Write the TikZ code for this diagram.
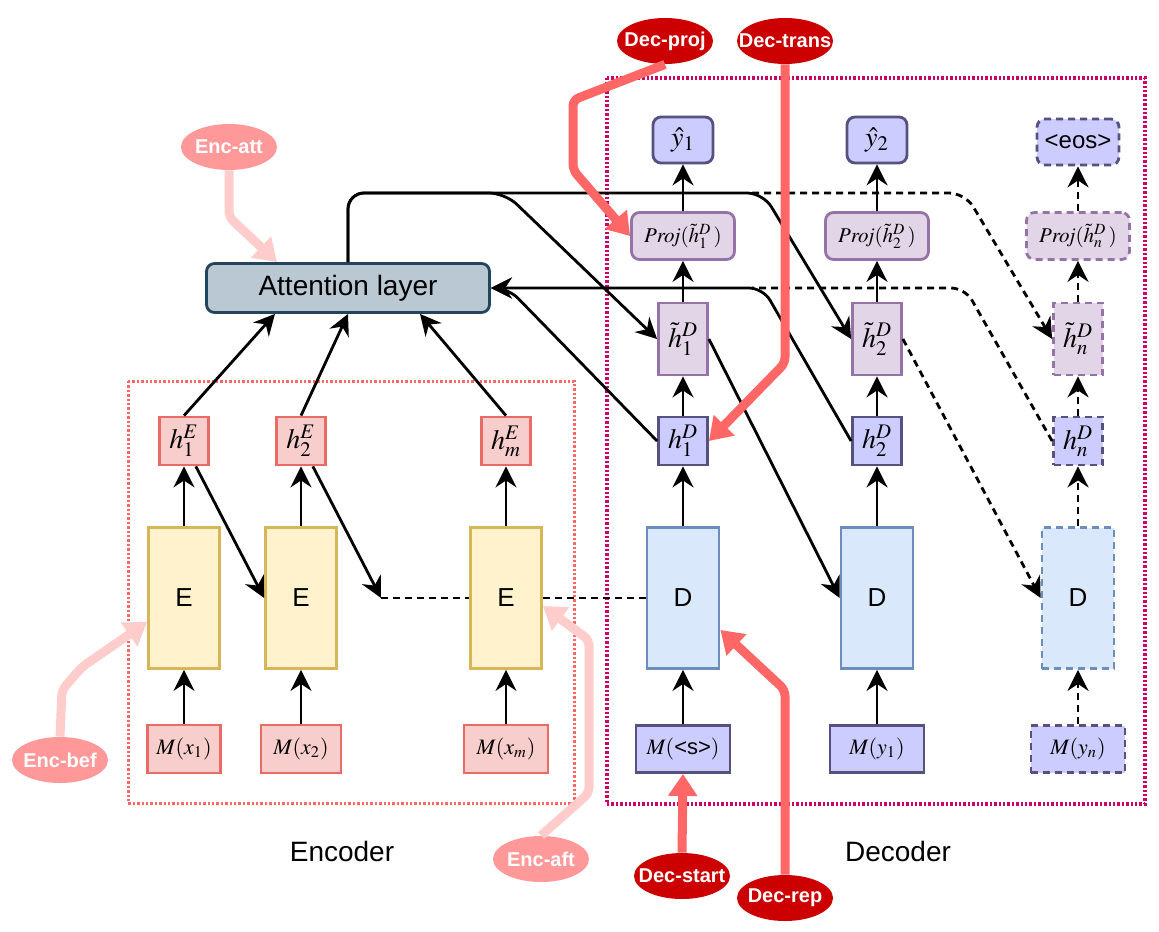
\documentclass[tikz,border=0pt]{standalone}
\usepackage{mathptmx}
\usepackage[no-math]{fontspec}
\setmainfont{Liberation Sans}
\usetikzlibrary{arrows.meta,shapes.geometric}

\definecolor{yellowFill}{HTML}{FFF2CC}
\definecolor{yellowLine}{HTML}{D6B656}
\definecolor{redFill}{HTML}{F8CECC}
\definecolor{redLine}{HTML}{EA6B66}
\definecolor{blueFill}{HTML}{DAE8FC}
\definecolor{blueLine}{HTML}{6C8EBF}
\definecolor{lilacFill}{HTML}{E1D5E7}
\definecolor{lilacLine}{HTML}{9673A6}
\definecolor{violetFill}{HTML}{CCCCFF}
\definecolor{violetLine}{HTML}{56517E}
\definecolor{attFill}{HTML}{BAC8D3}
\definecolor{attLine}{HTML}{23445D}
\definecolor{encFrame}{HTML}{FF6666}
\definecolor{decFrame}{HTML}{CC0066}
\definecolor{encTag}{HTML}{FF9999}
\definecolor{decTag}{HTML}{CC0000}
\definecolor{encHint}{HTML}{FFCCCC}
\definecolor{decHint}{HTML}{FF6666}

\newcommand{\cellFont}[0]{\fontsize{13}{15}\selectfont}
\newcommand{\titleFont}[0]{\fontsize{14}{16}\selectfont}
\newcommand{\tagFont}[0]{\fontsize{10}{12}\selectfont\bfseries}
\newcommand{\embFont}[0]{\fontsize{11}{13}\selectfont}
\newcommand{\projFont}[0]{\fontsize{10.5}{12}\selectfont}
\newcommand{\tagText}[1]{\makebox[0pt]{\raisebox{-2pt}{#1}}}

\begin{document}
\begin{tikzpicture}[x=0.5pt, y=-0.5pt]
  \tikzset{
    boxBase/.style={draw, line width=1.4pt, inner sep=0pt, align=center},
    cellE/.style={boxBase, draw=yellowLine, fill=yellowFill, minimum width=35.5pt, minimum height=70.5pt, font=\cellFont},
    cellD/.style={boxBase, draw=blueLine, fill=blueFill, minimum width=36pt, minimum height=70.5pt, font=\cellFont},
    stateE/.style={boxBase, draw=redLine, fill=redFill, minimum width=24.5pt, minimum height=24pt, font=\titleFont},
    embedE/.style={boxBase, draw=redLine, fill=redFill, minimum height=24pt, font=\embFont},
    stateD/.style={boxBase, draw=violetLine, fill=violetFill, minimum width=24.5pt, minimum height=24pt, font=\titleFont},
    stateT/.style={boxBase, draw=lilacLine, fill=lilacFill, minimum width=24.5pt, minimum height=36pt, font=\titleFont},
    projBox/.style={boxBase, draw=lilacLine, fill=lilacFill, rounded corners=4pt, minimum width=51.5pt, minimum height=23.5pt, font=\projFont},
    outBox/.style={boxBase, draw=violetLine, fill=violetFill, rounded corners=4pt, minimum width=30pt, minimum height=23pt, font=\titleFont},
    embedD/.style={boxBase, draw=violetLine, fill=violetFill, minimum width=47pt, minimum height=23.5pt, font=\embFont},
    ghost/.style={dash pattern=on 3.5pt off 2.5pt},
    link/.style={line width=1.4pt},
    wire/.style={link, -{Stealth[length=10.5pt,width=10.5pt,inset=3.5pt]}},
    tag/.style={ellipse, inner sep=0pt, minimum width=48pt, minimum height=23pt, text=white, font=\tagFont},
    hint/.style={line width=4.5pt, rounded corners=3pt, -{Triangle[length=11pt,width=14pt]}},
  }
  \useasboundingbox (0,0) rectangle (1159,931);

  % frames
  \draw[encFrame, line width=1.5pt, dash pattern=on 1.2pt off 1pt] (128,381) rectangle (574,803);
  \draw[decFrame, line width=1.7pt, dash pattern=on 1.2pt off 1pt] (607,78) rectangle (1145,804);

  % encoder
  \node[embedE, minimum width=36.5pt] (mx1) at (184,749) {$M(x_1)$};
  \node[embedE, minimum width=40pt] (mx2) at (301,749) {$M(x_2)$};
  \node[embedE, minimum width=42pt] (mxm) at (506,749) {$M(x_m)$};
  \node[cellE] (E1) at (184,598) {E};
  \node[cellE] (E2) at (301,598) {E};
  \node[cellE] (E3) at (506,598) {E};
  \node[stateE] (hE1) at (184,441) {$h_1^E$};
  \node[stateE] (hE2) at (301,441) {$h_2^E$};
  \node[stateE] (hEm) at (506,441) {$h_m^E$};
  \node[boxBase, draw=attLine, fill=attFill, rounded corners=4pt, minimum width=141.5pt, minimum height=24.5pt, font=\titleFont] (att) at (348,288) {Attention layer};

  % decoder
  \node[embedD] (ms) at (683,749) {$M($<s>$)$};
  \node[embedD] (my1) at (877,749) {$M(y_1)$};
  \node[embedD, ghost] (myn) at (1078,749) {$M(y_n)$};
  \node[cellD] (D1) at (683,598) {D};
  \node[cellD] (D2) at (877,598) {D};
  \node[cellD, ghost] (D3) at (1078,598) {D};
  \node[stateD] (hD1) at (683,441) {$h_1^D$};
  \node[stateD] (hD2) at (877,441) {$h_2^D$};
  \node[stateD, ghost] (hDn) at (1078,441) {$h_n^D$};
  \node[stateT] (ht1) at (683,339) {$\tilde{h}_1^D$};
  \node[stateT] (ht2) at (877,339) {$\tilde{h}_2^D$};
  \node[stateT, ghost] (htn) at (1078,339) {$\tilde{h}_n^D$};
  \node[projBox] (proj1) at (683,236) {$\mathit{Proj}(\tilde{h}_1^D\,)$};
  \node[projBox] (proj2) at (877,236) {$\mathit{Proj}(\tilde{h}_2^D\,)$};
  \node[projBox, ghost] (projn) at (1078,236) {$\mathit{Proj}(\tilde{h}_n^D\,)$};
  \node[outBox] (yh1) at (683,140) {$\hat{y}_1$};
  \node[outBox] (yh2) at (877,140) {$\hat{y}_2$};
  \node[outBox, ghost, minimum width=41pt, font=\fontsize{12}{14}\selectfont] (eos) at (1078,142) {<eos>};

  \node[font=\titleFont] (encName) at (342,851) {Encoder};
  \node[font=\titleFont] (decName) at (898,851) {Decoder};

  % columns
  \foreach \from/\to in {mx1/E1, mx2/E2, mxm/E3, E1/hE1, E2/hE2, E3/hEm, ms/D1, D1/hD1, hD1/ht1, ht1/proj1, proj1/yh1, my1/D2, D2/hD2, hD2/ht2, ht2/proj2, proj2/yh2}
    \draw[wire] (\from) -- (\to);
  \foreach \from/\to in {myn/D3, D3/hDn, hDn/htn, htn/projn, projn/eos}
    \draw[wire, ghost] (\from) -- (\to);

  % encoder states
  \draw[wire] (hE1.north) -- ([xshift=-36.5pt]att.south);
  \draw[wire] (hE2.north) -- (att.south);
  \draw[wire] (hEm.north) -- ([xshift=36pt]att.south);
  \coordinate (gapEnd) at (381,598);
  \draw[wire] (hE1.-65) -- (E2.west);
  \draw[wire] (hE2.-65) -- (gapEnd);
  \draw[link, ghost] (gapEnd) -- (E3.west);
  \draw[link, ghost] (E3.east) -- (D1.west);
  \draw[wire] (ht1.east) -- (D2.west);
  \draw[wire, ghost] (ht2.east) -- (D3.west);

  % attention
  \coordinate (splitTop) at (752,193);
  \coordinate (splitMid) at (752,288);
  \draw[wire, rounded corners=8pt] (att.north) |- (505,193) -- (ht1.west);
  \draw[wire, rounded corners=8pt] (att.north) |- (763,193) -- (ht2.west);
  \draw[wire, ghost, rounded corners=8pt] (splitTop) -- (965,193) -- (htn.west);
  \draw[wire, rounded corners=7pt] (hD1.west) -- (508,288) -- (att.east);
  \draw[wire, rounded corners=7pt] (hD2.west) -- (763,288) -- (att.east);
  \draw[link, ghost, rounded corners=7pt] (hDn.west) -- (965,288) -- (splitMid);

  % tags
  \node[tag, fill=encTag] (encAtt) at (229,147) {\tagText{Enc-att}};
  \node[tag, fill=decTag] (decProj) at (665,41) {\tagText{Dec-proj}};
  \node[tag, fill=decTag] (decTrans) at (785,41) {\tagText{Dec-trans}};
  \node[tag, fill=encTag] (encBef) at (60,760) {\tagText{Enc-bef}};
  \node[tag, fill=encTag] (encAft) at (541,859) {\tagText{Enc-aft}};
  \node[tag, fill=decTag] (decStart) at (682,876) {\tagText{Dec-start}};
  \node[tag, fill=decTag] (decRep) at (785,898) {\tagText{Dec-rep}};

  \draw[hint, encHint] (encAtt.south) -- (229,217) -- ([xshift=-35.5pt]att.north);
  \draw[hint, decHint] (decProj.south) -- (573,100) -- (573,170) -- (proj1.west);
  \draw[hint, decHint] (decTrans.south) -- (785,363) -- (hD1.east);
  \draw[hint, encHint] (encBef.north) -- (62,690) -- (82,667) -- ([yshift=-12pt]E1.west);
  \draw[hint, encHint] (encAft.north) -- (589,793) -- (589,640) -- ([yshift=-4pt]E3.east);
  \draw[hint, decHint] (decStart.north) -- (ms.south);
  \draw[hint, decHint] (decRep.north) -- (785,690) -- ([yshift=-16pt]D1.east);
\end{tikzpicture}
\end{document}
